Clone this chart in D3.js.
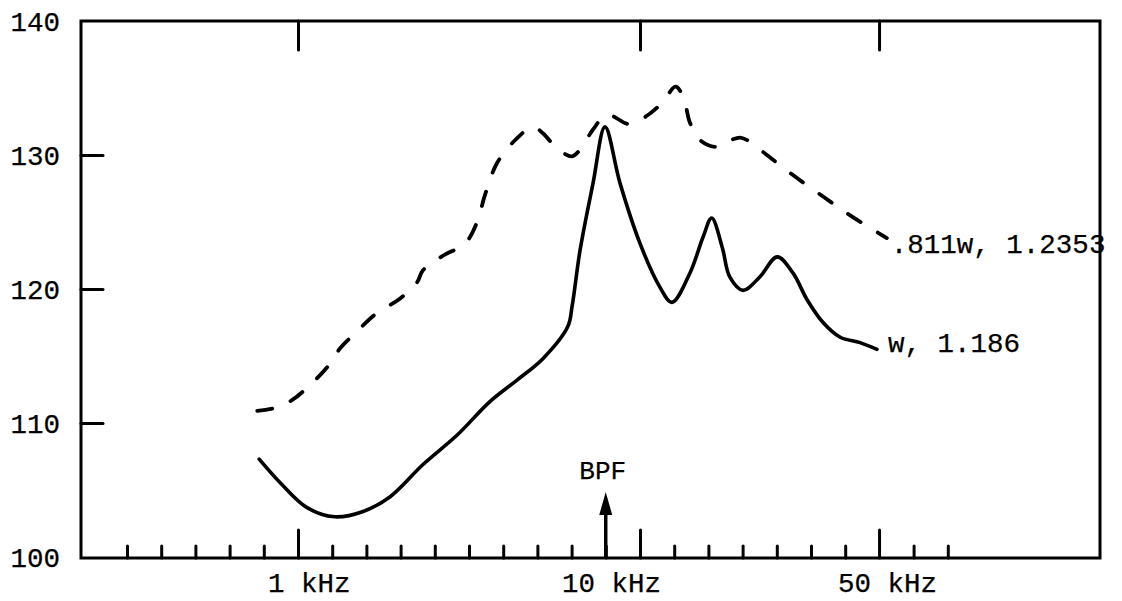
<!DOCTYPE html>
<html>
<head>
<meta charset="utf-8">
<script src="https://cdn.jsdelivr.net/npm/d3@7"></script>
<style>
  html, body { margin: 0; padding: 0; background: #fff; }
  svg { display: block; }
  text { font-family: "Liberation Mono", "DejaVu Sans Mono", monospace; fill: #000; }
</style>
</head>
<body>
<svg id="chart" width="1122" height="601"></svg>
<script>
// Spectrum levels (dB) versus frequency (kHz), two operating points.
const freqW = [0.77, 0.89, 1.06, 1.28, 1.55, 1.86, 2.32, 2.92, 3.64, 4.37, 5.2, 6.15, 6.33, 6.68, 7.29, 7.9,
  8.74, 10.0, 11.4, 12.4, 14.0, 15.3, 16.2, 17.4, 18.3, 20.0, 22.4, 25.2, 28.0, 30.8, 34.3, 38.5, 44.0, 49.3];
const levelW = [107.3, 105.5, 103.7, 103.0, 103.4, 104.5, 106.9, 109.1, 111.6, 113.2, 114.8, 117.2, 118.7, 122.9, 127.9, 132.1,
  127.9, 123.4, 120.2, 119.0, 121.2, 123.9, 125.3, 123.1, 120.9, 119.9, 120.9, 122.4, 121.2, 119.2, 117.5, 116.4, 116.0, 115.5];

const freq811 = [0.76, 0.85, 0.96, 1.08, 1.22, 1.33, 1.47, 1.68, 1.99, 2.23, 2.32, 2.66, 3.08, 3.34, 3.52, 3.82, 4.31, 4.87,
  5.21, 5.72, 6.33, 6.68, 7.29, 8.0, 9.35, 10.7, 11.7, 12.7, 13.4, 14.0, 15.0, 16.8, 18.0, 19.6, 20.6, 23.5, 28.0, 34.3, 41.7, 52.7];
const level811 = [110.9, 111.1, 111.7, 112.8, 114.2, 115.6, 116.7, 118.1, 119.3, 120.5, 121.4, 122.5, 123.4, 125.0, 127.0, 129.4, 131.1, 132.1,
  131.6, 130.5, 129.9, 130.4, 131.9, 133.0, 132.3, 133.1, 134.0, 135.1, 134.3, 132.4, 131.1, 130.6, 131.0, 131.3, 131.1, 130.0, 128.5, 126.9, 125.4, 123.8];

const seriesNames = ["w, 1.186", ".811w, 1.2353"];

// Axis annotations
const yTicks = [100, 110, 120, 130, 140];
const xMajorTicks = [1, 10, 50];
const xMajorLabels = ["1 kHz", "10 kHz", "50 kHz"];
const bpfFreq = 7.94;
const bpfLabel = "BPF";

const svg = d3.select("#chart");
const frame = { left: 81, right: 1100, top: 21, bottom: 558 };

// Log frequency axis: one decade spans 342 px
const x = d3.scaleLog().domain([1, 10]).range([298, 640]);
const y = d3.scaleLinear().domain([100, 140]).range([557, frame.top]);

// Minor ticks every tenth of a decade from 0.316 kHz to 79 kHz
const minorTicks = d3.range(-5, 20)
  .filter(k => k !== 0 && k !== 10 && k !== 17)
  .map(k => Math.pow(10, k / 10));

const fontSize = 27.5;
const textStroke = 0.25;
const axisStroke = 3;

function styleAxis(g) {
  g.selectAll(".domain").remove();
  g.selectAll(".tick line").attr("stroke", "#000").attr("stroke-width", axisStroke).attr("stroke-linecap", "round");
}

// Bottom minor ticks
svg.append("g")
  .attr("transform", `translate(0,${frame.bottom})`)
  .call(d3.axisBottom(x).tickValues(minorTicks).tickSizeInner(-12).tickSizeOuter(0).tickFormat(""))
  .call(styleAxis);

// Bottom major ticks
svg.append("g")
  .attr("transform", `translate(0,${frame.bottom})`)
  .call(d3.axisBottom(x).tickValues(xMajorTicks).tickSizeInner(-28).tickSizeOuter(0).tickFormat(""))
  .call(styleAxis);

// Top major ticks
svg.append("g")
  .attr("transform", `translate(0,${frame.top})`)
  .call(d3.axisTop(x).tickValues(xMajorTicks).tickSizeInner(-29).tickSizeOuter(0).tickFormat(""))
  .call(styleAxis);

// Left axis ticks (inner levels only; the frame covers 100 and 140)
svg.append("g")
  .attr("transform", `translate(${frame.left},0)`)
  .call(d3.axisLeft(y).tickValues(yTicks.filter(v => v !== 100 && v !== 140)).tickSizeInner(-22).tickSizeOuter(0).tickFormat(""))
  .call(styleAxis);

svg.append("g").selectAll("text")
  .data(yTicks)
  .join("text")
  .attr("x", 60)
  .attr("y", d => y(d))
  .attr("dy", "0.36em")
  .attr("text-anchor", "end")
  .attr("font-size", fontSize)
  .attr("stroke", "#000").attr("stroke-width", textStroke)
  .text(d => d);

// Frequency labels under the axis (placed slightly off their ticks, as typed)
const xLabelShift = [-30, -78, -41];
svg.append("g").selectAll("text")
  .data(xMajorTicks)
  .join("text")
  .attr("x", (d, i) => x(d) + xLabelShift[i])
  .attr("y", 592)
  .attr("text-anchor", "start")
  .attr("font-size", fontSize)
  .attr("stroke", "#000").attr("stroke-width", textStroke)
  .text((d, i) => xMajorLabels[i]);

// Curves
const line = d3.line()
  .x(d => x(d[0]))
  .y(d => y(d[1]))
  .curve(d3.curveCatmullRom.alpha(0.5));

const dataW = freqW.map((f, i) => [f, levelW[i]]);
const data811 = freq811.map((f, i) => [f, level811[i]]);

svg.append("path")
  .datum(dataW)
  .attr("d", line)
  .attr("fill", "none")
  .attr("stroke", "#000")
  .attr("stroke-width", 3.6)
  .attr("stroke-linecap", "round")
  .attr("stroke-linejoin", "round");

svg.append("path")
  .datum(data811)
  .attr("d", line)
  .attr("fill", "none")
  .attr("stroke", "#000")
  .attr("stroke-width", 3.8)
  .attr("stroke-dasharray", "15,20")
  .attr("stroke-linecap", "round")
  .attr("stroke-linejoin", "round");

// Series labels at the curve ends
const endW = dataW[dataW.length - 1];
const end811 = data811[data811.length - 1];
svg.append("text")
  .attr("x", x(endW[0]) + 11)
  .attr("y", y(endW[1]) + 3)
  .attr("font-size", fontSize)
  .attr("stroke", "#000").attr("stroke-width", textStroke)
  .text(seriesNames[0]);
svg.append("text")
  .attr("x", x(end811[0]) + 4)
  .attr("y", y(end811[1]) + 15)
  .attr("font-size", fontSize)
  .attr("stroke", "#000").attr("stroke-width", textStroke)
  .text(seriesNames[1]);

// Blade passing frequency marker
const bx = x(bpfFreq);
svg.append("line")
  .attr("x1", bx).attr("x2", bx)
  .attr("y1", frame.bottom).attr("y2", 508)
  .attr("stroke", "#000").attr("stroke-width", 3.5);
svg.append("path")
  .attr("d", `M${bx},492 L${bx - 6.5},515 L${bx + 6.5},515 Z`)
  .attr("fill", "#000");
svg.append("text")
  .attr("x", bx - 3)
  .attr("y", 479)
  .attr("text-anchor", "middle")
  .attr("font-size", 26)
  .attr("stroke", "#000").attr("stroke-width", textStroke)
  .text(bpfLabel);

// Plot frame
svg.append("rect")
  .attr("x", frame.left).attr("y", frame.top)
  .attr("width", frame.right - frame.left)
  .attr("height", frame.bottom - frame.top)
  .attr("fill", "none")
  .attr("stroke", "#000")
  .attr("stroke-width", axisStroke);
</script>
</body>
</html>
